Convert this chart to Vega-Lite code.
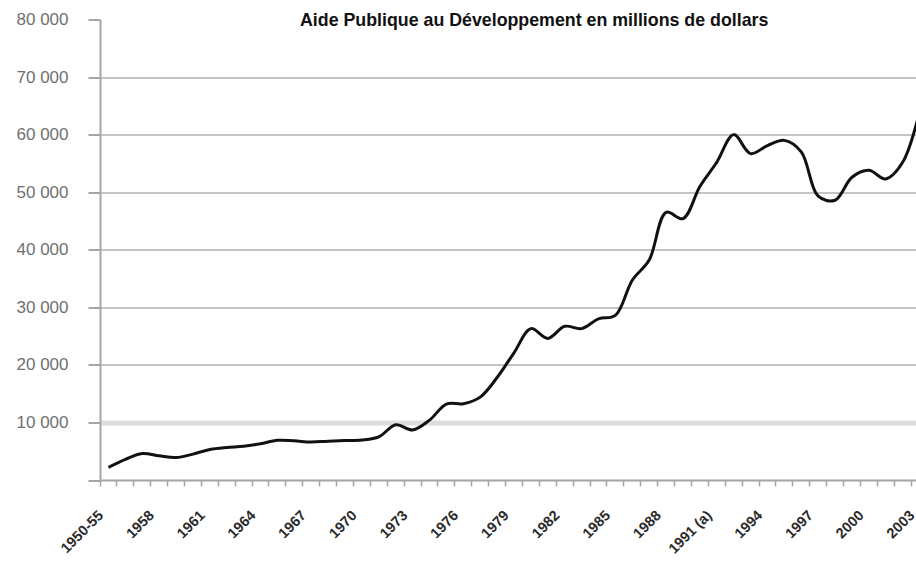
{
  "$schema": "https://vega.github.io/schema/vega-lite/v6.json",
  "autosize": {"type": "none"},
  "padding": {"left": 100, "top": 19.5, "right": -12, "bottom": 82},
  "width": 828,
  "height": 460.5,
  "background": "white",
  "title": {
    "text": "Aide Publique au Développement en millions de dollars",
    "anchor": "start",
    "frame": "group",
    "dx": 200,
    "offset": -33,
    "baseline": "alphabetic",
    "font": "Liberation Sans",
    "fontSize": 17.8,
    "fontWeight": "bold",
    "color": "#111111"
  },
  "config": {
    "view": {"stroke": null}
  },
  "data": {
    "values": [
      {"annee": "1950-55", "apd": 2200},
      {"annee": "1956", "apd": 3600},
      {"annee": "1957", "apd": 4600},
      {"annee": "1958", "apd": 4200},
      {"annee": "1959", "apd": 3900},
      {"annee": "1960", "apd": 4500},
      {"annee": "1961", "apd": 5300},
      {"annee": "1962", "apd": 5650},
      {"annee": "1963", "apd": 5850},
      {"annee": "1964", "apd": 6300},
      {"annee": "1965", "apd": 6900},
      {"annee": "1966", "apd": 6800},
      {"annee": "1967", "apd": 6600},
      {"annee": "1968", "apd": 6750},
      {"annee": "1969", "apd": 6850},
      {"annee": "1970", "apd": 6950},
      {"annee": "1971", "apd": 7500},
      {"annee": "1972", "apd": 9600},
      {"annee": "1973", "apd": 8700},
      {"annee": "1974", "apd": 10400},
      {"annee": "1975", "apd": 13200},
      {"annee": "1976", "apd": 13250},
      {"annee": "1977", "apd": 14400},
      {"annee": "1978", "apd": 17800},
      {"annee": "1979", "apd": 22100},
      {"annee": "1980", "apd": 26300},
      {"annee": "1981", "apd": 24600},
      {"annee": "1982", "apd": 26700},
      {"annee": "1983", "apd": 26300},
      {"annee": "1984", "apd": 28000},
      {"annee": "1985", "apd": 28600},
      {"annee": "1986", "apd": 34700},
      {"annee": "1987", "apd": 38200},
      {"annee": "1988", "apd": 46500},
      {"annee": "1989", "apd": 45400},
      {"annee": "1990", "apd": 51000},
      {"annee": "1991 (a)", "apd": 55200},
      {"annee": "1992", "apd": 60000},
      {"annee": "1993", "apd": 56700},
      {"annee": "1994", "apd": 58100},
      {"annee": "1995", "apd": 59000},
      {"annee": "1996", "apd": 57000},
      {"annee": "1997", "apd": 49300},
      {"annee": "1998", "apd": 48600},
      {"annee": "1999", "apd": 52600},
      {"annee": "2000", "apd": 53800},
      {"annee": "2001", "apd": 52300},
      {"annee": "2002", "apd": 55200},
      {"annee": "2003", "apd": 64000}
    ]
  },
  "mark": {"type": "line", "color": "#111111", "strokeWidth": 3, "interpolate": "catmull-rom", "clip": false},
  "encoding": {
    "x": {
      "field": "annee",
      "type": "ordinal",
      "sort": null,
      "bandPosition": 0.5,
      "scale": {"type": "band", "paddingInner": 0, "paddingOuter": 0},
      "axis": {
        "title": null,
        "bandPosition": 0,
        "grid": false,
        "domainColor": "#a6a6a6",
        "domainWidth": 2,
        "tickColor": "#a6a6a6",
        "tickWidth": 1.5,
        "tickSize": 6,
        "labelAngle": -45,
        "labelAlign": "right",
        "labelBaseline": "middle",
        "labelPadding": 27,
        "labelOffset": -7,
        "labelFont": "Liberation Sans",
        "labelFontSize": 14.5,
        "labelFontWeight": "bold",
        "labelColor": "#2a2a2a",
        "labelOverlap": false,
        "labelExpr": "indexof(['1950-55','1958','1961','1964','1967','1970','1973','1976','1979','1982','1985','1988','1991 (a)','1994','1997','2000','2003'], datum.label) >= 0 ? datum.label : ''"
      }
    },
    "y": {
      "field": "apd",
      "type": "quantitative",
      "scale": {"domain": [0, 80000], "nice": false},
      "axis": {
        "title": null,
        "values": [0, 10000, 20000, 30000, 40000, 50000, 60000, 70000, 80000],
        "domainColor": "#a6a6a6",
        "domainWidth": 2,
        "tickColor": "#a6a6a6",
        "tickWidth": 2,
        "tickSize": 12,
        "labelPadding": 20,
        "labelFont": "Liberation Sans",
        "labelFontSize": 17,
        "labelColor": "#707070",
        "labelExpr": "datum.value == 0 ? '' : replace(format(datum.value, ','), ',', ' ')",
        "grid": true,
        "gridColor": {"condition": {"test": "datum.value == 10000", "value": "#dddddd"}, "value": "#c4c4c4"},
        "gridWidth": {"condition": {"test": "datum.value == 10000", "value": 5}, "value": 2},
        "gridOpacity": {"condition": {"test": "datum.value == 80000 || datum.value == 0", "value": 0}, "value": 1}
      }
    }
  }
}
